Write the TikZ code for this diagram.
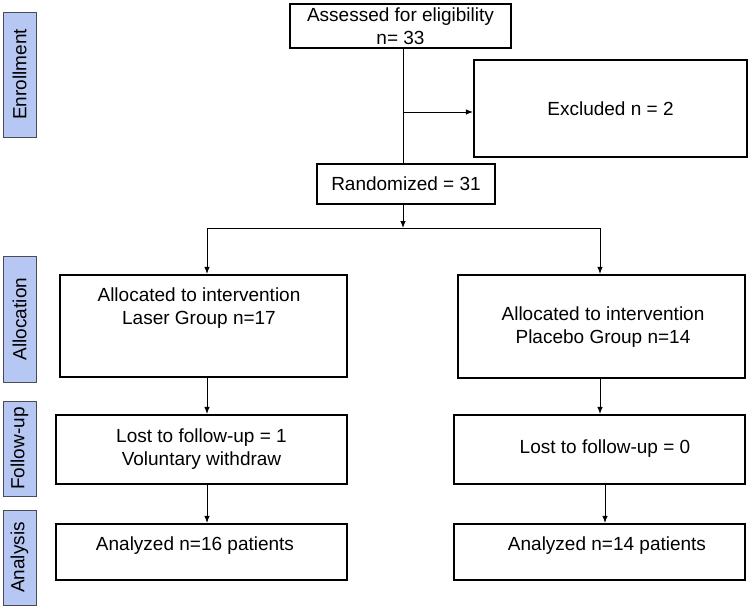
\documentclass[tikz,border=0pt]{standalone}
\usepackage{fontspec}
\setmainfont{Liberation Sans}
\usetikzlibrary{arrows.meta}
\definecolor{lblfill}{RGB}{182,199,243}
\definecolor{lbldraw}{RGB}{75,75,85}
\begin{document}
\begin{tikzpicture}[x=1pt,y=-1pt,
  box/.style={draw=black,line width=2.2pt,fill=white,inner sep=0pt,align=center},
  txt/.style={inner sep=0pt,align=center},
  lbl/.style={draw=lbldraw,fill=lblfill,line width=1pt,inner sep=0pt,rotate=90,minimum height=33pt},
  conn/.style={line width=0.9pt},
  arr/.style={conn,-{Latex[length=7pt,width=5.5pt]}},
  font=\fontsize{19}{23}\selectfont]
\useasboundingbox (0,0) rectangle (752,611);

% side labels
\node[lbl,minimum width=125pt] (lenr) at (19.5,74.5) {Enrollment};
\node[lbl,minimum width=126pt] (lall) at (19.5,319) {Allocation};
\node[lbl,minimum width=95pt] (lfol) at (19.5,448.5) {Follow-up};
\node[lbl,minimum width=95pt] (lana) at (19.5,557.5) {Analysis};

% boxes
\node[box,minimum width=221pt,minimum height=44pt] (assess) at (400.5,26) {Assessed for eligibility\\n= 33};
\node[box,minimum width=273pt,minimum height=97pt] (excl) at (610.5,108.5) {Excluded n = 2};
\node[box,minimum width=178pt,minimum height=40pt] (rand) at (406,184) {Randomized = 31};
\node[box,minimum width=287pt,minimum height=102pt] (allocL) at (203.5,326) {};
\node[box,minimum width=287pt,minimum height=103pt] (allocR) at (601.5,326.5) {};
\node[box,minimum width=291pt,minimum height=69pt] (fuL) at (201.5,449.5) {Lost to follow-up = 1\\Voluntary withdraw};
\node[box,minimum width=291pt,minimum height=69pt] (fuR) at (599.5,449.5) {};
\node[box,minimum width=291pt,minimum height=56pt] (anL) at (201.5,552) {};
\node[box,minimum width=291pt,minimum height=56pt] (anR) at (599.5,552) {};

% texts placed off-centre in their boxes
\node[txt] (tallocL) at (199,308.5) {Allocated to intervention\\Laser Group n=17};
\node[txt] (tallocR) at (603,327) {Allocated to intervention\\Placebo Group n=14};
\node[txt] (tfuR) at (605,449) {Lost to follow-up = 0};
\node[txt] (tanL) at (195,546) {Analyzed n=16 patients};
\node[txt] (tanR) at (607,546) {Analyzed n=14 patients};

% connector points
\coordinate (ex) at (403,112);
\coordinate (bM) at (403,228);
\coordinate (bL) at (207,228);
\coordinate (bR) at (600,228);
\coordinate (cL) at (207,300);
\coordinate (cR) at (600,300);
\coordinate (dR) at (605,300);

% connectors
\draw[conn] (assess.south -| ex) -- (rand.north -| ex);
\draw[arr] (ex) -- (excl.west |- ex);
\draw[arr] (rand.south -| bM) -- (bM);
\draw[conn] (bL) -- (bR);
\draw[arr] (bL) -- (allocL.north -| bL);
\draw[arr] (bR) -- (allocR.north -| bR);
\draw[arr] (allocL.south -| cL) -- (fuL.north -| cL);
\draw[arr] (fuL.south -| cL) -- (anL.north -| cL);
\draw[arr] (allocR.south -| cR) -- (fuR.north -| cR);
\draw[arr] (fuR.south -| dR) -- (anR.north -| dR);
\end{tikzpicture}
\end{document}
